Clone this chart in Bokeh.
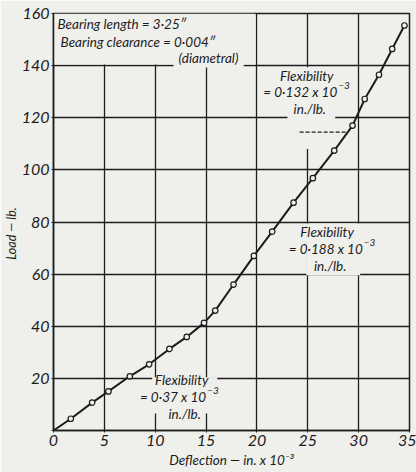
from bokeh.plotting import figure
from bokeh.models import Label, FixedTicker, Range1d
from bokeh.embed import file_html
from bokeh.resources import INLINE

# ---- data ----
deflection = [0, 1.7, 3.8, 5.4, 7.5, 9.4, 11.4, 13.1, 14.8, 15.9, 17.7, 19.7,
              21.5, 23.6, 25.5, 27.6, 29.4, 30.6, 32.0, 33.3, 34.5]
load = [0, 4.5, 10.7, 15.0, 20.8, 25.4, 31.3, 35.9, 41.3, 46.0, 56.0, 67.0,
        76.3, 87.4, 96.8, 107.4, 117.0, 127.2, 136.5, 146.4, 155.4]
x_ticks = [0, 5, 10, 15, 20, 25, 30, 35]
y_ticks = [0, 20, 40, 60, 80, 100, 120, 140, 160]

BG = "#efefec"
INK = "#1c1c1c"
FONT = "Lato"

p = figure(width=416, height=472, output_backend="svg", toolbar_location=None,
           x_range=Range1d(0, 35), y_range=Range1d(0, 160),
           min_border_left=52, min_border_right=7, min_border_top=13, min_border_bottom=42)
p.background_fill_color = BG
p.border_fill_color = BG
p.outline_line_color = INK
p.outline_line_width = 1.5

for ax in (p.xaxis[0], p.yaxis[0]):
    ax.axis_line_color = INK
    ax.axis_line_width = 1.5
    ax.major_tick_line_color = INK
    ax.major_tick_out = 2
    ax.major_tick_in = 0
    ax.minor_tick_line_color = None
    ax.major_label_text_font = FONT
    ax.major_label_text_font_style = "italic"
    ax.major_label_text_font_size = "16px"
    ax.major_label_text_color = INK
    ax.axis_label_text_font = FONT
    ax.axis_label_text_font_style = "italic"
    ax.axis_label_text_color = INK

p.xaxis.axis_label_text_font_size = "13.5px"
p.yaxis.axis_label_text_font_size = "12.5px"
p.xaxis.ticker = FixedTicker(ticks=x_ticks)
p.yaxis.ticker = FixedTicker(ticks=y_ticks)
p.yaxis.major_label_overrides = {0: ""}
p.xaxis.major_label_standoff = 2
p.yaxis.major_label_standoff = 2
p.xaxis.axis_label = "Deflection — in. x 10⁻³"
p.yaxis.axis_label = "Load — lb.\u2003\u2003\u2002"
p.xaxis.axis_label_standoff = 3
p.yaxis.axis_label_standoff = 0

p.xgrid.ticker = FixedTicker(ticks=x_ticks)
p.ygrid.ticker = FixedTicker(ticks=y_ticks)
for g in (p.xgrid[0], p.ygrid[0]):
    g.grid_line_color = INK
    g.grid_line_width = 1.3
    g.grid_line_alpha = 1.0

# blank boxes that interrupt the grid behind the notes
p.quad(left=[0, 11.8, 23.0, 24.85, 9.7], right=[19.85, 18.7, 27.7, 30.15, 16.1],
       bottom=[140.4, 139.3, 108, 59.6, 6.5], top=[160, 140.7, 139.4, 79.4, 20.4],
       fill_color=BG, line_color=None)

p.line(deflection, load, line_color=INK, line_width=2)
p.scatter(deflection[1:], load[1:], marker="circle", size=5.5, fill_color=BG,
          line_color=INK, line_width=1.2)
p.line([24.2, 28.9], [114.5, 114.5], line_color=INK, line_width=1.3, line_dash="4 2")

def note(x, y, text, align="left", size="13.5px"):
    p.add_layout(Label(x=x, y=y, text=text, text_align=align, text_baseline="middle",
                       text_font=FONT, text_font_style="italic", text_font_size=size,
                       text_color=INK))

note(0.4, 156.0, "Bearing length = 3·25″")
note(0.7, 149.0, "Bearing clearance = 0·004″")
note(12.3, 142.8, "(diametral)")

def flex(cx, y0, value, ex, ey):
    note(cx, y0, "Flexibility", "center")
    note(ex, ey, "= " + value + " x 10", "right")
    note(ex + 0.1, ey + 2.4, "−3", "left", "10px")
    note(cx + 0.3, ey - 6.6, "in./lb.", "center")

flex(24.9, 136.2, "0·132", 27.9, 130.0)
flex(26.9, 76.1, "0·188", 30.4, 69.7)
flex(12.6, 19.2, "0·37", 15.0, 12.8)

open("out.html", "w").write(file_html(p, INLINE))
